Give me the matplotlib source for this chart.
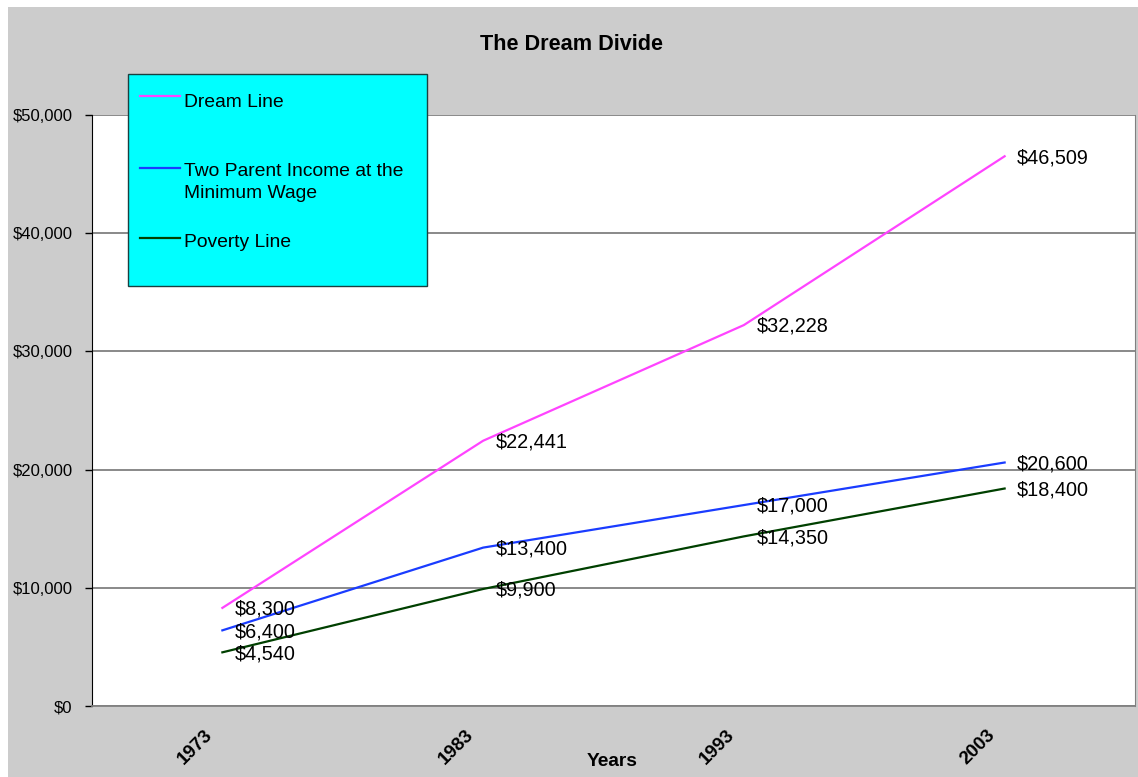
import matplotlib
matplotlib.use("Agg")
import matplotlib.pyplot as plt
from matplotlib.patches import Rectangle
from matplotlib.lines import Line2D
from matplotlib.ticker import FuncFormatter
import matplotlib.transforms as mtransforms

plt.rcParams['font.family'] = ['Liberation Sans', 'DejaVu Sans']

years = ["1973", "1983", "1993", "2003"]
dream_line = [8300, 22441, 32228, 46509]
two_parent = [6400, 13400, 17000, 20600]
poverty_line = [4540, 9900, 14350, 18400]

series_names = ["Dream Line", "Two Parent Income at the\nMinimum Wage", "Poverty Line"]
series_values = [dream_line, two_parent, poverty_line]
series_colors = ["#ff44ff", "#1a3cff", "#004000"]

W, H = 1138, 777
fig = plt.figure(figsize=(W / 100, H / 100), dpi=100, facecolor="white")

# gray chart background
fig.add_artist(Rectangle((8 / W, 0), 1 - 8 / W, 1 - 7 / H, transform=fig.transFigure,
                         facecolor="#cccccc", edgecolor="none", zorder=-10))

ax = fig.add_axes([92 / W, 1 - 706 / H, (1135 - 92) / W, (706 - 115) / H])
ax.set_facecolor("white")

x = list(range(len(years)))
for vals, col in zip(series_values, series_colors):
    ax.plot(x, vals, color=col, lw=1.6, zorder=3)
    for xi, v in zip(x, vals):
        ax.annotate(f"${v:,}", (xi, v), xytext=(9, -1), textcoords="offset points",
                    ha="left", va="center", fontsize=14.3, color="black", zorder=4)

ax.set_xlim(-0.5, 3.5)
ax.set_ylim(0, 50000)
ax.set_yticks([0, 10000, 20000, 30000, 40000, 50000])
ax.yaxis.set_major_formatter(FuncFormatter(lambda v, p: f"${int(v):,}"))
ax.yaxis.grid(True, color="#808080", lw=1.3)
ax.set_axisbelow(True)
ax.tick_params(axis="y", length=5, width=1, color="black", pad=9, labelsize=12)

ax.set_xticks(x)
ax.set_xticklabels(years, rotation=45, ha="right", rotation_mode="anchor",
                   fontweight="bold", fontsize=13.5)
ax.tick_params(axis="x", length=0, pad=15)
shift = mtransforms.ScaledTranslation(-18 / 100, 0, fig.dpi_scale_trans)
for lab in ax.get_xticklabels():
    lab.set_transform(lab.get_transform() + shift)

ax.spines["top"].set_visible(False)
ax.spines["left"].set_color("black")
ax.spines["bottom"].set_color("#808080")
ax.spines["bottom"].set_linewidth(1.3)
ax.spines["right"].set_color("#808080")

ax.set_xlabel("Years", fontweight="bold", fontsize=13.8, labelpad=0)
ax.xaxis.set_label_coords((612 - 92) / (1135 - 92), (706 - 753) / (706 - 115))

fig.text(572 / W, 1 - 44 / H, "The Dream Divide", ha="center", va="center",
         fontweight="bold", fontsize=15.6)

# legend box
lx0, ly0, lx1, ly1 = 128, 74, 427, 286
fig.add_artist(Rectangle((lx0 / W, 1 - ly1 / H), (lx1 - lx0) / W, (ly1 - ly0) / H,
                         transform=fig.transFigure, facecolor="#00ffff",
                         edgecolor="#1a4040", lw=1.0, zorder=5))
handle_y = [96, 168, 238]
text_top = [94, 163, 234]
for name, col, hy, ty in zip(series_names, series_colors, handle_y, text_top):
    fig.add_artist(Line2D([140 / W, 180 / W], [1 - hy / H, 1 - hy / H], color=col,
                          lw=1.6, transform=fig.transFigure, zorder=6))
    fig.text(184 / W, 1 - ty / H, name, ha="left", va="top", fontsize=13.9,
             linespacing=1.38, zorder=6)

fig.savefig("out.png", dpi=100, facecolor=fig.get_facecolor())
